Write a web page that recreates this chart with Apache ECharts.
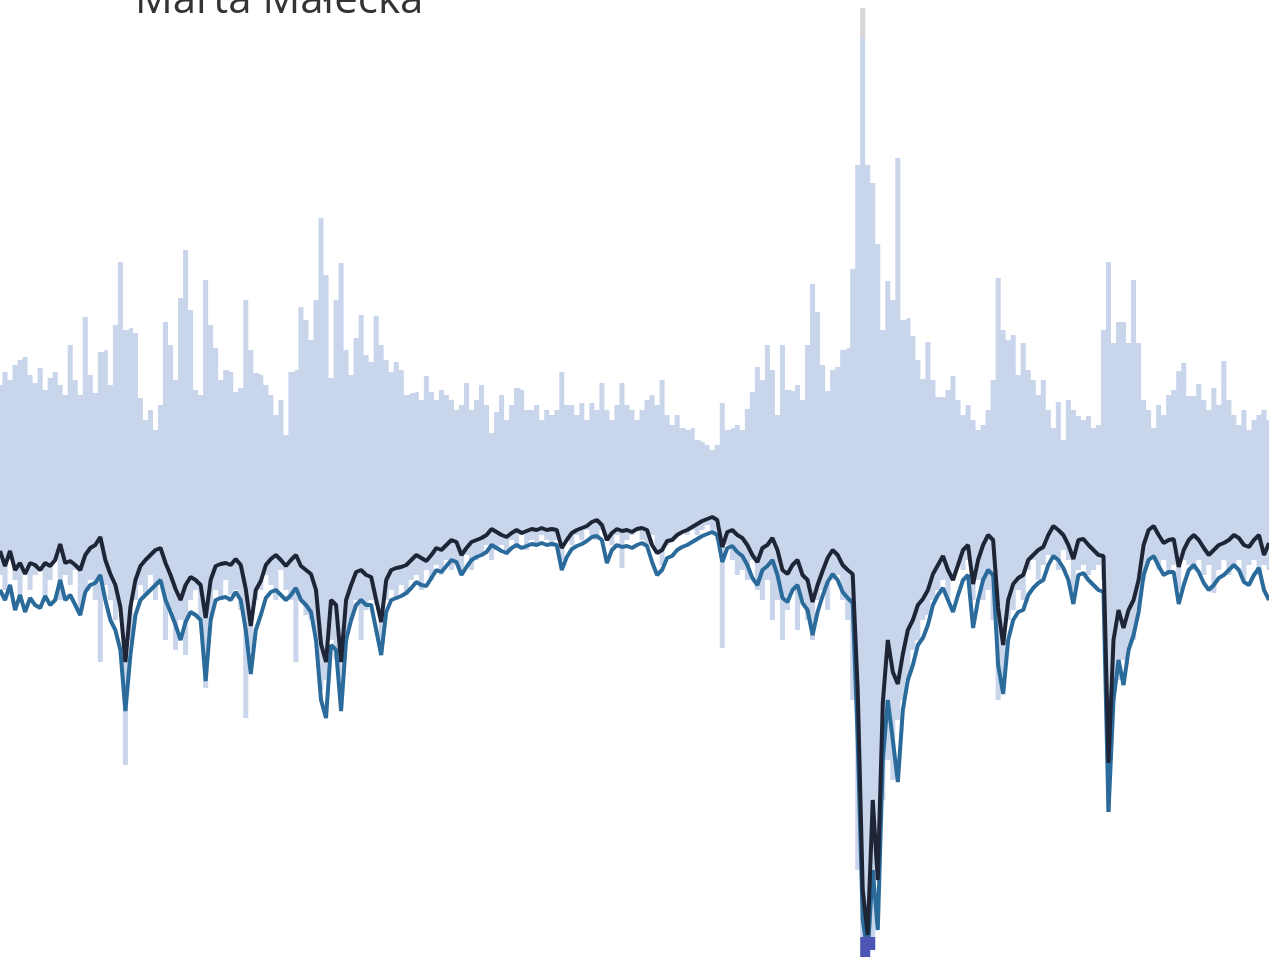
<!DOCTYPE html>
<html>
<head>
<meta charset="utf-8">
<title>Marta Małecka</title>
<script src="https://cdn.jsdelivr.net/npm/echarts@6.0.0/dist/echarts.min.js"></script>
<style>
  html, body { margin: 0; padding: 0; background: #ffffff; }
  #chart { width: 1269px; height: 957px; }
</style>
</head>
<body>
<div id="chart"></div>
<script>
// Upper and lower envelope of the daily return band (one value per step)
const upperBand = [
  85,98,90,105,110,113,95,87,102,80,92,98,85,75,125,90,75,153,95,77,
  118,120,85,145,208,140,142,137,72,50,60,40,65,148,125,90,172,220,160,80,
  75,190,145,122,90,100,98,78,82,170,120,97,95,85,75,55,70,35,98,100,
  163,150,130,170,252,195,92,170,207,120,95,132,155,115,108,154,125,110,98,108,
  100,75,77,78,70,94,78,70,80,75,70,60,65,87,60,70,85,65,37,58,
  75,50,65,82,80,60,60,65,50,60,55,60,98,65,65,55,67,50,67,60,
  87,60,50,65,87,65,60,50,60,70,75,65,90,55,45,55,42,40,42,30,
  28,25,20,25,67,40,42,45,40,61,78,103,90,125,100,55,125,80,79,85,
  70,125,186,158,105,79,100,103,120,122,201,305,462,305,287,226,140,189,170,312,
  150,152,134,110,91,128,90,73,73,80,94,70,55,65,50,40,45,60,90,192,
  140,130,135,95,127,100,90,75,90,60,42,68,30,70,60,54,50,54,42,45,
  140,208,127,148,148,127,190,127,70,60,42,65,55,75,80,99,107,74,74,86,
  70,60,82,65,109,70,55,45,60,40,50,55,60,50
];
const lowerBand = [
  -105,-120,-90,-110,-130,-100,-120,-105,-95,-125,-110,-90,-130,-105,-115,-100,-140,-120,-110,-130,
  -192,-115,-130,-150,-140,-295,-170,-130,-115,-125,-105,-130,-110,-170,-140,-180,-150,-185,-130,-120,
  -150,-218,-150,-120,-130,-110,-125,-120,-140,-248,-180,-130,-120,-105,-115,-130,-100,-120,-130,-192,
  -130,-145,-150,-170,-220,-210,-170,-190,-230,-170,-150,-130,-170,-140,-130,-135,-180,-130,-120,-130,
  -115,-125,-110,-105,-120,-100,-110,-95,-105,-90,-100,-95,-105,-85,-100,-90,-85,-75,-90,-80,
  -75,-85,-70,-75,-65,-80,-70,-75,-65,-70,-75,-70,-90,-70,-75,-65,-70,-60,-65,-70,
  -60,-70,-75,-65,-98,-70,-65,-60,-70,-75,-65,-80,-95,-75,-70,-65,-60,-65,-60,-65,
  -60,-55,-60,-70,-178,-75,-90,-105,-100,-110,-90,-120,-130,-110,-150,-130,-170,-140,-120,-160,
  -130,-150,-170,-130,-120,-140,-110,-105,-130,-150,-230,-400,-500,-500,-480,-400,-330,-290,-310,-250,
  -230,-210,-180,-170,-150,-145,-130,-120,-110,-130,-110,-95,-100,-90,-130,-110,-130,-120,-150,-230,
  -220,-150,-140,-120,-130,-100,-90,-110,-95,-85,-90,-100,-80,-90,-120,-100,-95,-105,-100,-95,
  -110,-342,-230,-210,-190,-180,-170,-140,-110,-90,-85,-100,-90,-105,-95,-120,-90,-95,-100,-90,
  -105,-95,-123,-100,-90,-105,-95,-90,-110,-95,-90,-105,-95,-100
];
// Drawdown paths of the two portfolios
const drawdownA = [
  -81,-96,-81,-100,-93,-104,-93,-95,-100,-93,-96,-90,-74,-93,-91,-95,-100,-85,-78,-75,
  -67,-90,-104,-115,-137,-192,-137,-110,-96,-90,-85,-80,-78,-93,-105,-119,-130,-115,-107,-110,
  -115,-148,-110,-96,-94,-93,-95,-89,-95,-119,-156,-120,-111,-95,-89,-85,-90,-96,-90,-85,
  -96,-100,-104,-120,-174,-192,-130,-135,-192,-130,-115,-102,-100,-105,-107,-130,-152,-110,-100,-98,
  -97,-95,-90,-85,-88,-91,-85,-78,-80,-75,-70,-72,-85,-78,-72,-70,-68,-65,-59,-62,
  -65,-67,-63,-60,-63,-61,-59,-60,-58,-60,-59,-60,-78,-70,-63,-60,-58,-56,-52,-50,
  -55,-70,-63,-59,-61,-60,-62,-59,-58,-60,-75,-83,-80,-71,-70,-65,-62,-60,-57,-54,
  -51,-49,-47,-50,-77,-62,-60,-65,-68,-75,-85,-92,-78,-75,-68,-80,-100,-104,-95,-90,
  -105,-110,-132,-115,-101,-88,-80,-85,-95,-100,-104,-220,-420,-465,-330,-410,-233,-170,-202,-214,
  -184,-160,-150,-135,-129,-120,-104,-95,-86,-100,-110,-95,-80,-75,-114,-90,-75,-65,-70,-138,
  -175,-130,-114,-108,-105,-90,-85,-80,-77,-65,-56,-60,-65,-75,-89,-70,-69,-75,-80,-85,
  -86,-293,-170,-140,-158,-140,-130,-110,-75,-60,-56,-65,-73,-70,-69,-97,-80,-70,-65,-70,
  -78,-85,-80,-75,-73,-70,-65,-68,-75,-77,-70,-65,-85,-73
];
const drawdownB = [
  -120,-130,-115,-140,-125,-142,-128,-135,-138,-126,-135,-130,-110,-130,-125,-135,-145,-122,-115,-113,
  -105,-130,-150,-160,-180,-241,-185,-145,-130,-125,-120,-115,-110,-130,-142,-155,-170,-152,-142,-145,
  -150,-211,-150,-130,-128,-127,-130,-122,-130,-160,-204,-160,-145,-128,-122,-120,-125,-130,-125,-118,
  -130,-135,-142,-170,-230,-248,-175,-180,-241,-170,-150,-135,-130,-135,-135,-160,-185,-142,-130,-128,
  -126,-123,-118,-112,-115,-116,-108,-100,-102,-96,-90,-92,-105,-97,-90,-87,-85,-82,-75,-78,
  -81,-83,-78,-75,-78,-76,-74,-75,-73,-75,-74,-75,-100,-87,-79,-76,-74,-71,-67,-66,
  -70,-93,-80,-75,-77,-76,-78,-75,-73,-76,-92,-105,-100,-88,-86,-80,-77,-75,-72,-69,
  -66,-64,-62,-65,-92,-78,-76,-82,-86,-95,-108,-115,-100,-96,-90,-105,-128,-132,-120,-115,
  -133,-140,-165,-142,-126,-112,-104,-110,-122,-128,-133,-270,-450,-483,-400,-460,-290,-230,-270,-312,
  -240,-210,-195,-175,-168,-155,-135,-125,-118,-130,-142,-125,-110,-105,-158,-130,-110,-100,-105,-195,
  -224,-170,-150,-142,-140,-125,-118,-113,-110,-95,-86,-90,-98,-110,-134,-105,-103,-110,-115,-120,
  -122,-342,-230,-190,-215,-180,-165,-142,-105,-90,-86,-96,-105,-102,-102,-134,-115,-100,-95,-102,
  -113,-120,-115,-108,-105,-100,-95,-100,-112,-115,-105,-98,-120,-130
];

// Limits beyond which the band is drawn in the overflow tones
const HI_CAP = 432;
const LO_CAP = -467;
const Y_MIN = -487;
const Y_MAX = 470;

const steps = upperBand.map((_, i) => i);
const bandBase = lowerBand.map(v => Math.max(v, LO_CAP));
const bandSpan = upperBand.map((v, i) => Math.min(v, HI_CAP) - bandBase[i]);
const hiBase = upperBand.map(() => HI_CAP);
const hiExtra = upperBand.map(v => Math.max(v - HI_CAP, 0));
const loBase = lowerBand.map(() => LO_CAP);
const loExtra = lowerBand.map(v => Math.min(v - LO_CAP, 0));

const noLine = { width: 0, opacity: 0 };

const chart = echarts.init(document.getElementById('chart'), null, { renderer: 'canvas' });
chart.setOption({
  animation: false,
  backgroundColor: '#ffffff',
  title: {
    text: 'Marta Małecka',
    left: 135,
    top: -20,
    padding: 0,
    textStyle: { fontFamily: 'Open Sans', fontSize: 42, fontWeight: 'normal', color: '#333333' }
  },
  grid: { left: 0, right: 0, top: 0, bottom: 0 },
  xAxis: { type: 'category', data: steps, boundaryGap: false, show: false },
  yAxis: { type: 'value', min: Y_MIN, max: Y_MAX, show: false },
  series: [
    { type: 'line', data: bandBase, stack: 'band', stackStrategy: 'all', step: 'middle',
      symbol: 'none', lineStyle: noLine, silent: true, z: 1 },
    { type: 'line', data: bandSpan, stack: 'band', stackStrategy: 'all', step: 'middle',
      symbol: 'none', lineStyle: noLine, areaStyle: { color: '#c9d5eb', opacity: 1 }, silent: true, z: 1 },
    { type: 'line', data: hiBase, stack: 'hi', step: 'middle',
      symbol: 'none', lineStyle: noLine, silent: true, z: 1 },
    { type: 'line', data: hiExtra, stack: 'hi', step: 'middle',
      symbol: 'none', lineStyle: noLine, areaStyle: { color: '#d6d6d8', opacity: 1 }, silent: true, z: 1 },
    { type: 'line', data: drawdownB, symbol: 'none',
      lineStyle: { color: '#2a6b9b', width: 4 }, silent: true, z: 3 },
    { type: 'line', data: drawdownA, symbol: 'none',
      lineStyle: { color: '#1e2536', width: 4 }, silent: true, z: 4 },
    { type: 'line', data: loBase, stack: 'lo', step: 'middle',
      symbol: 'none', lineStyle: noLine, silent: true, z: 5 },
    { type: 'line', data: loExtra, stack: 'lo', step: 'middle',
      symbol: 'none', lineStyle: noLine, areaStyle: { color: '#4c55b3', opacity: 1 }, silent: true, z: 5 }
  ]
});
</script>
</body>
</html>
